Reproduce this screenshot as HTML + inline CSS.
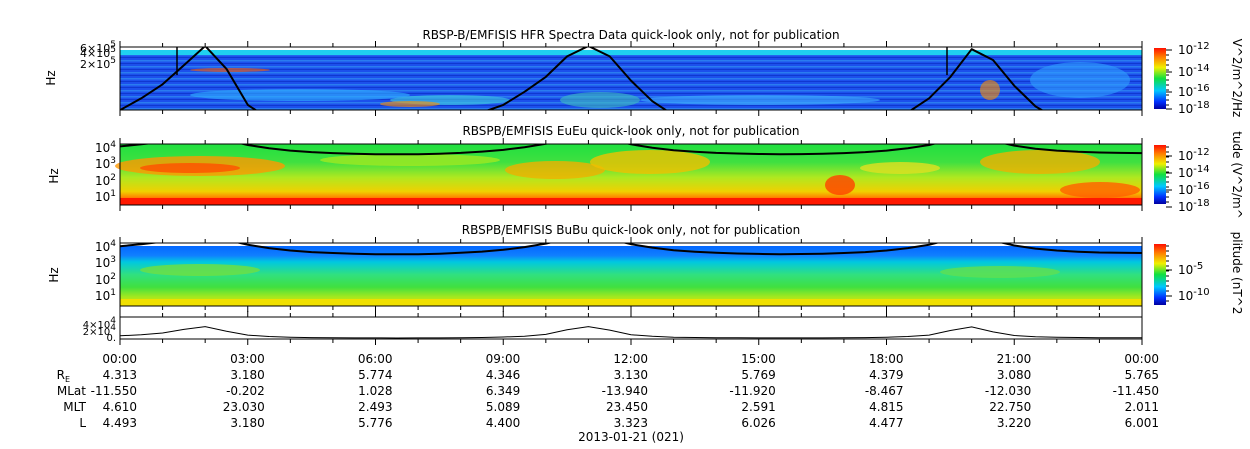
<!DOCTYPE html>
<html><head><meta charset="utf-8"><style>
html,body{margin:0;padding:0;background:#fff;}
svg{display:block;font-family:"DejaVu Sans","Liberation Sans",sans-serif;}
</style></head><body>
<svg id="c" width="1250" height="449" viewBox="0 0 1250 449" xmlns="http://www.w3.org/2000/svg">
<defs>
<linearGradient id="cb" x1="0" y1="1" x2="0" y2="0">
<stop offset="0" stop-color="#0000a0"/><stop offset="0.12" stop-color="#0030ff"/><stop offset="0.3" stop-color="#00c8ff"/><stop offset="0.5" stop-color="#10e040"/><stop offset="0.68" stop-color="#f0f000"/><stop offset="0.85" stop-color="#ff8000"/><stop offset="1" stop-color="#ff1000"/>
</linearGradient>
<pattern id="hstripe" width="8" height="6" patternUnits="userSpaceOnUse"><rect width="8" height="6" fill="#1c50ec"/><rect y="0" width="8" height="1.5" fill="#2a7cf0"/><rect y="3" width="8" height="1" fill="#1038d0"/></pattern>
<linearGradient id="p2g" x1="0" y1="0" x2="0" y2="1">
<stop offset="0" stop-color="#20e040"/><stop offset="0.3" stop-color="#40e040"/><stop offset="0.55" stop-color="#b0e820"/><stop offset="0.78" stop-color="#f0d000"/><stop offset="0.88" stop-color="#ff8000"/><stop offset="0.9" stop-color="#ff2000"/><stop offset="1" stop-color="#ff1000"/>
</linearGradient>
<linearGradient id="p3g" x1="0" y1="0" x2="0" y2="1">
<stop offset="0" stop-color="#0060ff"/><stop offset="0.2" stop-color="#1080ff"/><stop offset="0.3" stop-color="#00c8e0"/><stop offset="0.5" stop-color="#30e080"/><stop offset="0.7" stop-color="#40e040"/><stop offset="0.85" stop-color="#a0e820"/><stop offset="1" stop-color="#f0e000"/>
</linearGradient>
</defs>
</svg>
<script>
// ---- data ----
const hours = [0,0.5,1,1.5,2,2.5,3,3.5,4,4.5,5,5.5,6,6.5,7,7.5,8,8.5,9,9.5,10,10.5,11,11.5,12,12.5,13,13.5,14,14.5,15,15.5,16,16.5,17,17.5,18,18.5,19,19.5,20,20.5,21,21.5,22,22.5,23,23.5,24];
const fce = [9000,12000,17000,27000,35000,22000,11000,7000,5000,4000,3500,3200,3000,2950,3000,3200,3600,4300,5500,8000,13000,26000,35000,25000,12000,7500,5200,4200,3600,3300,3100,3000,3050,3200,3500,4000,5000,7000,11000,24000,34000,20000,10000,6500,5000,4200,3800,3600,3500];
const fuh = [6000,15000,45000,200000,900000,150000,9000,3000,2000,2000,2000,2000,2000,2000,2000,2000,3000,5000,9000,25000,80000,400000,900000,400000,60000,12000,4000,2000,2000,2000,2000,2000,2000,2000,2000,2000,3000,5000,15000,80000,700000,300000,40000,8000,3000,2000,2000,2000,2000];
const tickLabels = ["00:00","03:00","06:00","09:00","12:00","15:00","18:00","21:00","00:00"];
const rowNames = ["R","MLat","MLT","L"];
const rE = ["4.313","3.180","5.774","4.346","3.130","5.769","4.379","3.080","5.765"];
const mlat = ["-11.550","-0.202","1.028","6.349","-13.940","-11.920","-8.467","-12.030","-11.450"];
const mlt = ["4.610","23.030","2.493","5.089","23.450","2.591","4.815","22.750","2.011"];
const lsh = ["4.493","3.180","5.776","4.400","3.323","6.026","4.477","3.220","6.001"];
const rows=[rE,mlat,mlt,lsh];

const svg=document.getElementById('c');
const NS="http://www.w3.org/2000/svg";
function mk(t,a,p){const e=document.createElementNS(NS,t);for(const k in a)e.setAttribute(k,a[k]);(p||svg).appendChild(e);return e;}
const X0=120,X1=1142;
const xs=h=>X0+(X1-X0)*h/24;

const P1={t:47,b:110,lo:3.78,hi:5.92};
const P2={t:144,b:205,lo:0.37,hi:4.1};
const P3={t:243,b:306,lo:0.35,hi:4.15};
const P4={t:317,b:339,lo:0,hi:62000};
const ly=(P,v)=>P.b-(Math.log10(v)-P.lo)/(P.hi-P.lo)*(P.b-P.t);

function title(y,txt,n){const t=mk('text',{x:631,y:y,'text-anchor':'middle','font-size':12,fill:'#000'});t.textContent=txt;}
title(39,"RBSP-B/EMFISIS  HFR Spectra Data quick-look only, not for publication","panel1-title");
title(135,"RBSPB/EMFISIS  EuEu quick-look only, not for publication","panel2-title");
title(234,"RBSPB/EMFISIS  BuBu quick-look only, not for publication","panel3-title");

let g=mk('g',{});
mk('rect',{x:X0,y:P1.t,width:X1-X0,height:P1.b-P1.t,fill:'url(#hstripe)'},g);
mk('rect',{x:X0,y:P1.t+3,width:X1-X0,height:5,fill:'#20d0f0'},g);
mk('rect',{x:X0,y:P1.t,width:X1-X0,height:3,fill:'#fff'},g);
[[300,95,110,6,'#30b0ff'],[450,100,60,5,'#40d0e0'],[600,100,40,8,'#40c0c0'],[760,100,120,5,'#40b0ff'],[410,104,30,3,'#ff9000'],[990,90,10,10,'#ff9000'],[1080,80,50,18,'#30a0ff'],[230,70,40,2,'#ff6000']].forEach(b=>mk('ellipse',{cx:b[0],cy:b[1],rx:b[2],ry:b[3],fill:b[4],opacity:0.6},g));

g=mk('g',{});
mk('rect',{x:X0,y:P2.t,width:X1-X0,height:P2.b-P2.t,fill:'url(#p2g)'},g);
[[200,166,85,10,'#ff9800'],[190,168,50,5,'#ff5000'],[555,170,50,9,'#f0b000'],[650,162,60,12,'#f0c000'],[1040,162,60,12,'#f0b000'],[900,168,40,6,'#e0e020'],[410,160,90,6,'#a0e820'],[840,185,15,10,'#ff4000'],[1100,190,40,8,'#ff6000']].forEach(b=>mk('ellipse',{cx:b[0],cy:b[1],rx:b[2],ry:b[3],fill:b[4],opacity:0.8},g));
mk('rect',{x:X0,y:198,width:X1-X0,height:7,fill:'#ff1800'},g);

g=mk('g',{});
mk('rect',{x:X0,y:P3.t,width:X1-X0,height:P3.b-P3.t,fill:'url(#p3g)'},g);
mk('rect',{x:X0,y:P3.t,width:X1-X0,height:3,fill:'#fff'},g);
mk('rect',{x:X0,y:299,width:X1-X0,height:7,fill:'#f0e000'},g);
[[200,270,60,6,'#70e040'],[1000,272,60,6,'#60e050']].forEach(b=>mk('ellipse',{cx:b[0],cy:b[1],rx:b[2],ry:b[3],fill:b[4],opacity:0.8},g));

function curve(P,arr,name){
  const cid='clip'+name;const cp=mk('clipPath',{id:cid});mk('rect',{x:X0,y:P.t,width:X1-X0,height:P.b-P.t},cp);
  let d='';arr.forEach((v,i)=>{d+=(i?'L':'M')+xs(hours[i]).toFixed(1)+','+ly(P,v).toFixed(1);});
  const p=mk('path',{d:d,fill:'none',stroke:'#000','stroke-width':2,'stroke-linejoin':'round','clip-path':'url(#'+cid+')'});
  
}
curve(P1,fuh,'hfr-upper-hybrid-curve');
curve(P2,fce,'eueu-fce-curve');
curve(P3,fce,'bubu-fce-curve');
mk('line',{x1:177,y1:P1.t,x2:177,y2:75,stroke:'#000','stroke-width':1.5});
mk('line',{x1:947,y1:P1.t,x2:947,y2:75,stroke:'#000','stroke-width':1.5});

let d='';fce.forEach((v,i)=>{const y=P4.b-(v/P4.hi)*(P4.b-P4.t);d+=(i?'L':'M')+xs(hours[i]).toFixed(1)+','+y.toFixed(1);});
const lp=mk('path',{d:d,fill:'none',stroke:'#000','stroke-width':1});



[P1,P2,P3,P4].forEach((P,k)=>{
  const r=mk('rect',{x:X0,y:P.t,width:X1-X0,height:P.b-P.t,fill:'none',stroke:'#000','stroke-width':1});
  
  
  for(let h=0;h<=24;h++){const x=xs(h);const L=h%3==0?6:4;
    mk('line',{x1:x,y1:P.b,x2:x,y2:P.b+L,stroke:'#000'});mk('line',{x1:x,y1:P.t,x2:x,y2:P.t-L,stroke:'#000'});}
});
function ylab(y,txt,sup,fs){const t=mk('text',{x:116,y:y,'text-anchor':'end','font-size':fs||12});t.textContent=txt;if(sup){const s=mk('tspan',{dy:-5,'font-size':9},t);s.textContent=sup;}return t;}
[[52,'6×10','5'],[57,'4×10','5'],[68,'2×10','5']].forEach(a=>ylab(a[0],a[1],a[2],11));
[[152,'4'],[168,'3'],[185,'2'],[201,'1']].forEach(a=>ylab(a[0],'10',a[1]));
[[251,'4'],[267,'3'],[284,'2'],[300,'1']].forEach(a=>ylab(a[0],'10',a[1]));
[[328,'4×10','4'],[335,'2×10','4'],[341,'0.','']].forEach(a=>ylab(a[0],a[1],a[2],10));
[[55,78],[58,176],[58,275]].forEach(a=>{const t=mk('text',{x:a[0],y:a[1],'font-size':12,transform:'rotate(-90 '+a[0]+' '+a[1]+')','text-anchor':'middle'});t.textContent='Hz';});
[[P1,[[50,'-12'],[72,'-14'],[92,'-16'],[109,'-18']],'V^2/m^2/Hz',78],[P2,[[156,'-12'],[173,'-14'],[190,'-16'],[207,'-18']],'tude (V^2/m^',175],[P3,[[270,'-5'],[296,'-10']],'plitude (nT^2',273]].forEach((c,k)=>{
  const r=mk('rect',{x:1154,y:c[0].t+1,width:12,height:c[0].b-c[0].t-2,fill:'url(#cb)'});
  
  for(let y=c[0].t+3;y<c[0].b;y+=5)mk('line',{x1:1166,y1:y,x2:1169,y2:y,stroke:'#000'});
  c[1].forEach(a=>{const t=mk('text',{x:1178,y:a[0]+4,'font-size':12});t.textContent='10';const s=mk('tspan',{dy:-5,'font-size':10},t);s.textContent=a[1];mk('line',{x1:1166,y1:a[0],x2:1172,y2:a[0],stroke:'#000'});});
  const t=mk('text',{x:1233,y:c[3],'font-size':12,transform:'rotate(90 1233 '+c[3]+')','text-anchor':'middle'});t.textContent=c[2];
  
});

tickLabels.forEach((s,i)=>{const t=mk('text',{x:xs(i*3)+17,y:363,'text-anchor':'end','font-size':12});t.textContent=s;});
rowNames.forEach((n,r)=>{const y=379+r*16;const t=mk('text',{x:r==0?70:86,y:y,'text-anchor':'end','font-size':12});t.textContent=n;
  if(r==0){const s=mk('tspan',{dy:3,'font-size':8},t);s.textContent='E';}
  
  rows[r].forEach((v,i)=>{const tt=mk('text',{x:xs(i*3)+17,y:y,'text-anchor':'end','font-size':12});tt.textContent=v;});});
const dt=mk('text',{x:631,y:441,'text-anchor':'middle','font-size':12});dt.textContent='2013-01-21 (021)';

</script>
</body></html>
